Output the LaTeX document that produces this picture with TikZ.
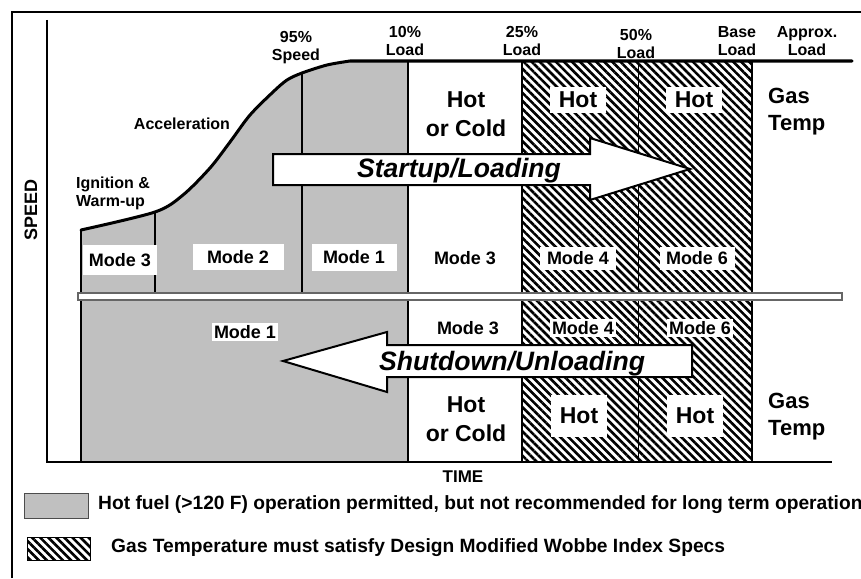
\documentclass[tikz,border=0pt]{standalone}
\usepackage{fontspec}
\setmainfont{Liberation Sans}
\usetikzlibrary{patterns.meta}
\definecolor{fuelgray}{RGB}{192,192,192}
\tikzset{
  lbl/.style={font=\bfseries\fontsize{16}{18}\selectfont,align=center,inner sep=0pt},
  modebox/.style={fill=white,font=\bfseries\fontsize{18}{20}\selectfont,inner xsep=2pt,inner ysep=2pt},
  bigtext/.style={font=\bfseries\fontsize{23}{29}\selectfont,align=center,inner sep=0pt},
  hotbox/.style={fill=white,font=\bfseries\fontsize{23}{28}\selectfont,inner xsep=9pt,inner ysep=5pt},
  gastext/.style={font=\bfseries\fontsize{22}{27}\selectfont,align=left,anchor=west,inner sep=0pt},
  legendtext/.style={font=\bfseries\fontsize{19.2}{21}\selectfont,anchor=west,inner sep=0pt},
  hatched/.style={pattern={Lines[angle=-45,distance=5.7pt,line width=2.6pt]}},
  fatarrow/.style={draw,fill=white,line width=2pt,line join=miter},
  arrowtext/.style={font=\bfseries\itshape\fontsize{26.6}{30}\selectfont,anchor=base,inner sep=0pt},
}
\begin{document}
\begin{tikzpicture}[x=1pt,y=-1pt]
\useasboundingbox (0,0) rectangle (861,578);
% frame
\draw[line width=1.5pt] (12,578) -- (12,12) -- (861,12);

% speed curve points
\coordinate (ign) at (155,212);
\coordinate (spd) at (302,73);
\def\speedcurve{(81,230) (155,212) (183,195) (210,168) (230,142) (250,115) (273,92) (287,80) (302,73) (327,65) (350,61)}

% areas
\fill[fuelgray] plot[smooth] coordinates {\speedcurve} -- (408,61) -- (408,462) -- (81,462) -- cycle;
\path[hatched] (522,61) rectangle (752,462);

% dividers
\draw[line width=1.5pt] (81,230) -- (81,462);
\draw[line width=2pt] (ign) -- (155,293) (spd) -- (302,293) (408,61) -- (408,462);
\draw[line width=1.5pt] (522,61) -- (522,462) (752,61) -- (752,462);
\draw[line width=0.8pt] (638,61) -- (638,462);

% start/stop separator
\draw[line width=1.2pt,draw=black!60,fill=white] (78,293) rectangle (842,300);

% axes
\draw[line width=2.5pt] (47,20) -- (47,462) -- (832,462);
\node[lbl,font=\bfseries\fontsize{18}{20}\selectfont,rotate=90] (speed) at (31,210) {SPEED};
\node[lbl,font=\bfseries\fontsize{17}{20}\selectfont] (time) at (463,477) {TIME};

% curve
\draw[line width=3pt,line cap=round] plot[smooth] coordinates {\speedcurve} -- (852,61);

% top labels
\foreach \x/\y/\t [count=\i] in {296/48/95\%\\Speed,405/41/10\%\\Load,522/41/25\%\\Load,636/44/50\%\\Load,737/41/Base\\Load,807/41/Approx.\\Load}
  \node[lbl] (top\i) at (\x,\y) {\t};
\node[lbl] (accel) at (182,124) {Acceleration};
\node[lbl,align=left,anchor=west] (warm) at (76,193) {Ignition \&\\Warm-up};

% startup modes
\node[modebox,minimum width=74pt,minimum height=30pt] (m3a) at (120,260) {Mode 3};
\node[modebox,minimum width=91pt,minimum height=26pt] (m2a) at (238,257) {Mode 2};
\node[modebox,minimum width=85pt,minimum height=27pt] (m1a) at (354,257) {Mode 1};
\node[modebox,fill=none] (m3b) at (465,258) {Mode 3};
\node[modebox,minimum width=76pt,minimum height=23pt] (m4a) at (578,258) {Mode 4};
\node[modebox,minimum width=75pt,minimum height=23pt] (m6a) at (697,258) {Mode 6};
\node[bigtext] (hcup) at (466,114) {Hot\\or Cold};
\node[hotbox] (hot1) at (578,100) {Hot};
\node[hotbox] (hot2) at (694,100) {Hot};
\node[gastext] (gasup) at (768,112) {Gas\\Temp};

% shutdown modes
\node[modebox] (m1b) at (245,332) {Mode 1};
\node[modebox,fill=none] (m3c) at (468,328) {Mode 3};
\node[modebox] (m4b) at (583,328) {Mode 4};
\node[modebox] (m6b) at (700,328) {Mode 6};
\node[bigtext] (hcdn) at (466,419) {Hot\\or Cold};
\node[hotbox,minimum height=42pt] (hot3) at (579,416) {Hot};
\node[hotbox,minimum height=42pt] (hot4) at (695,416) {Hot};
\node[gastext] (gasdn) at (768,417) {Gas\\Temp};

% direction arrows
\draw[fatarrow] (273,154) -- (590,154) -- (590,138) -- (690,169) -- (590,200) -- (590,185) -- (273,185) -- cycle;
\node[arrowtext] (startup) at (459,177) {Startup/Loading};
\draw[fatarrow] (692,345) -- (387,345) -- (387,332) -- (283,361) -- (387,392) -- (387,377) -- (692,377) -- cycle;
\node[arrowtext] (shutdown) at (512,370) {Shutdown/Unloading};

% legend
\draw[fill=fuelgray,line width=1pt,draw=black!70] (24,493) rectangle (88,518);
\node[legendtext] (hotleg) at (98,505) {Hot fuel (>120 F) operation permitted, but not recommended for long term operation};
\draw[hatched,line width=1pt] (27,537) rectangle (90,560);
\node[legendtext] (gasleg) at (111,548) {Gas Temperature must satisfy Design Modified Wobbe Index Specs};
\end{tikzpicture}
\end{document}
